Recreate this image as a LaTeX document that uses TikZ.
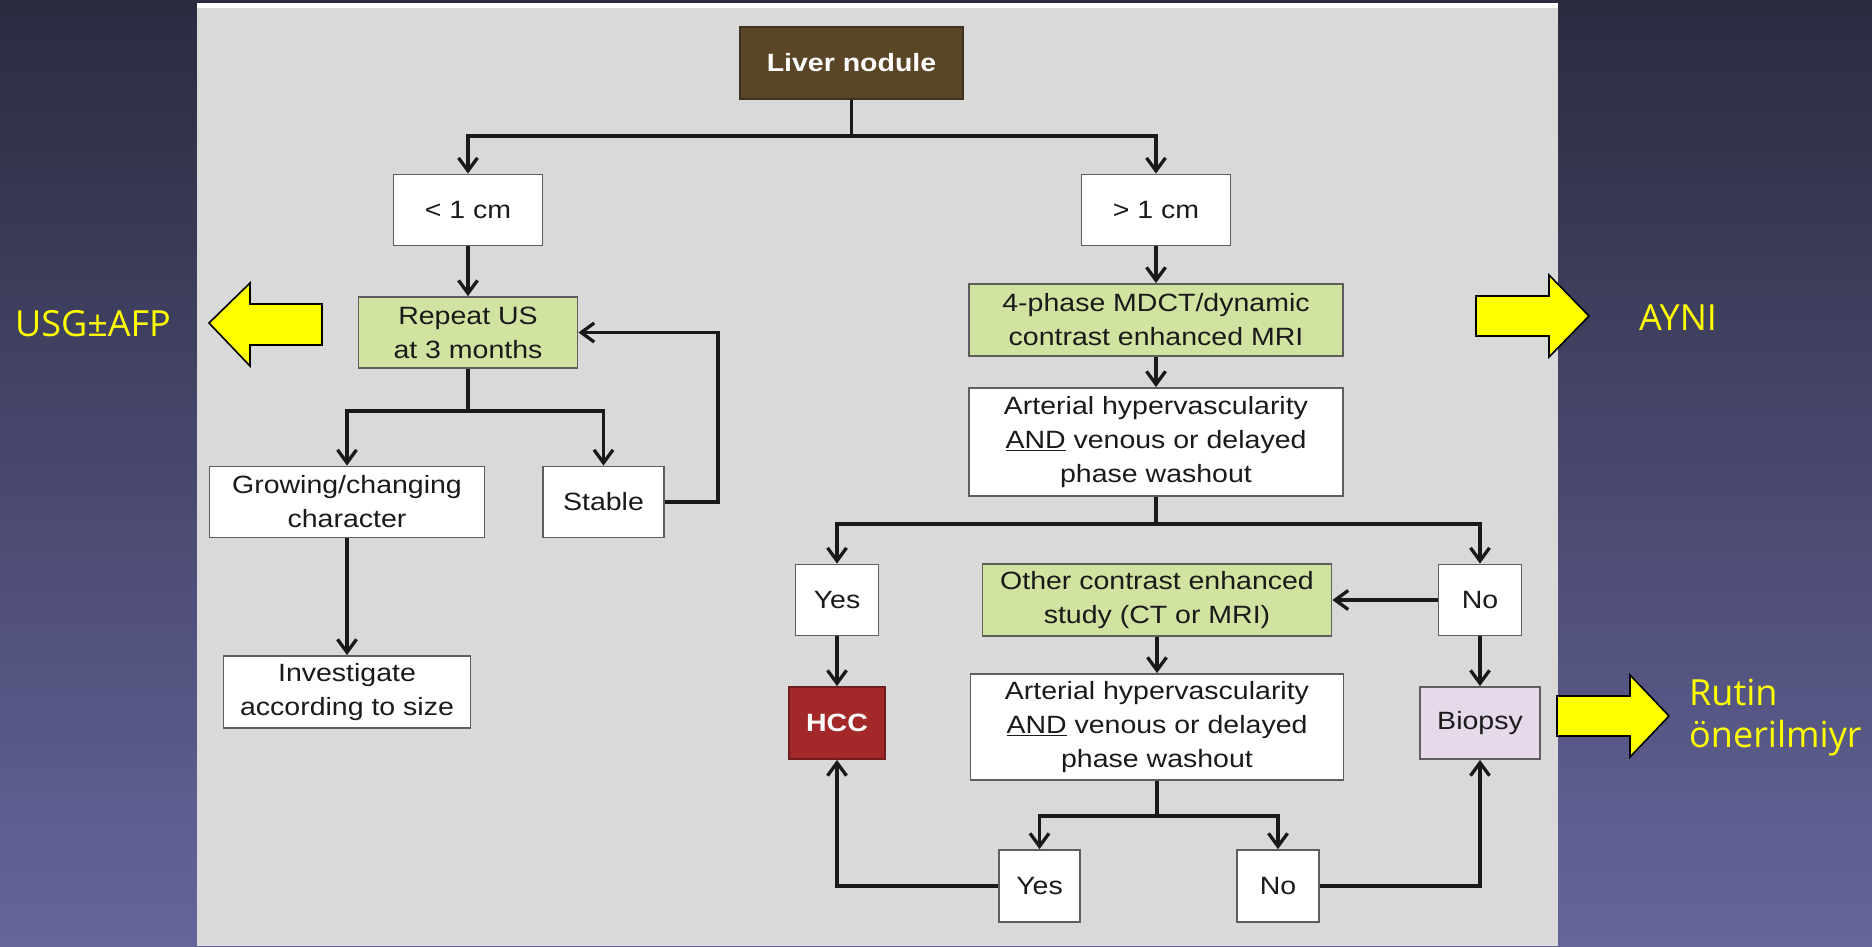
\documentclass[tikz,border=0pt]{standalone}
\usepackage{fontspec}
\setmainfont{Liberation Sans}
\newfontfamily\boxfont[FakeStretch=1.14]{Liberation Sans}
\newfontfamily\notefont{Open Sans}
\usetikzlibrary{arrows.meta}

\definecolor{bgtop}{HTML}{2B2B40}
\definecolor{bgbot}{HTML}{65659C}
\definecolor{panelgray}{HTML}{D9D9D9}
\definecolor{nodulebrown}{HTML}{5A4626}
\definecolor{imggreen}{HTML}{D1E3A1}
\definecolor{hccred}{HTML}{A2282A}
\definecolor{biopsylilac}{HTML}{E5D9EA}
\definecolor{boxline}{HTML}{5E5E5E}
\definecolor{boxtext}{HTML}{1A1A1A}
\definecolor{noteyellow}{HTML}{FFFF00}

\begin{document}
\begin{tikzpicture}[x=1pt, y=-1pt, line join=miter,
  box/.style={draw=boxline, line width=1.8pt, fill=white, inner sep=0pt, align=center,
    text=boxtext, font=\boxfont\fontsize{25}{34}\selectfont},
  imgbox/.style={box, fill=imggreen},
  flow/.style={line width=3.3pt, black!90},
  arr/.style={flow, -{Straight Barb[length=13pt,width=19pt]}},
  yarrow/.style={fill=noteyellow, draw=black, line width=1.6pt},
  note/.style={text=noteyellow, font=\notefont\fontsize{36}{42}\selectfont, inner sep=0pt}]

  %% ════ 背景 ════
  \shade[top color=bgtop, bottom color=bgbot] (0,0) rectangle (1872,946);
  \fill[white] (197,3) rectangle (1558,8);
  \fill[panelgray] (197,8) rectangle (1558,946);

  %% ════ 方框 ════
  \node[box, fill=nodulebrown, draw=nodulebrown!70!black, text=white, font=\boxfont\bfseries\fontsize{25}{34}\selectfont,
        minimum width=223, minimum height=72] (liver) at (851.5,63) {Liver nodule};
  \node[box, minimum width=149, minimum height=71] (lt) at (468,210) {< 1 cm};
  \node[box, minimum width=149, minimum height=71] (gt) at (1156,210) {> 1 cm};
  \node[imgbox, minimum width=219, minimum height=71] (rep) at (468,332.5) {Repeat US\\at 3 months};
  \node[imgbox, minimum width=374, minimum height=72] (mdct) at (1156,320) {4-phase MDCT/dynamic\\contrast enhanced MRI};
  \node[box, minimum width=374, minimum height=108] (art1) at (1156,442) {Arterial hypervascularity\\\underline{AND} venous or delayed\\phase washout};
  \node[box, minimum width=275, minimum height=71] (grow) at (347,502) {Growing/changing\\character};
  \node[box, minimum width=121, minimum height=71] (stab) at (603.5,502) {Stable};
  \node[box, minimum width=247, minimum height=72] (inv) at (347,692) {Investigate\\according to size};
  \node[box, minimum width=83, minimum height=71] (yes1) at (837,600) {Yes};
  \node[box, fill=hccred, draw=hccred!70!black, text=white, font=\boxfont\bfseries\fontsize{25}{34}\selectfont,
        minimum width=96, minimum height=72] (hcc) at (837,723) {HCC};
  \node[imgbox, minimum width=349, minimum height=72] (oth) at (1157,600) {Other contrast enhanced\\study (CT or MRI)};
  \node[box, minimum width=83, minimum height=71] (no1) at (1480,600) {No};
  \node[box, minimum width=373, minimum height=106] (art2) at (1157,727) {Arterial hypervascularity\\\underline{AND} venous or delayed\\phase washout};
  \node[box, fill=biopsylilac, minimum width=120, minimum height=72] (biop) at (1480,723) {Biopsy};
  \node[box, minimum width=81, minimum height=72] (yes2) at (1039.5,886) {Yes};
  \node[box, minimum width=82, minimum height=72] (no2) at (1278,886) {No};

  %% ════ 分叉点 ════
  \coordinate (s1) at (851.5,136);
  \coordinate (s2) at (468,411);
  \coordinate (s3) at (1156,524);
  \coordinate (s4) at (1157,816);
  \coordinate (fb) at (718,502);

  %% ════ 连线 ════
  \draw[flow] (liver) -- (s1);
  \draw[arr] (s1) -| (lt);
  \draw[arr] (s1) -| (gt);
  \draw[arr] (lt) -- (rep);
  \draw[flow] (rep) -- (s2);
  \draw[arr] (s2) -| (grow);
  \draw[arr] (s2) -| (stab);
  \draw[arr] (stab) -- (fb) |- (rep);
  \draw[arr] (grow) -- (inv);
  \draw[arr] (gt) -- (mdct);
  \draw[arr] (mdct) -- (art1);
  \draw[flow] (art1) -- (s3);
  \draw[arr] (s3) -| (yes1);
  \draw[arr] (s3) -| (no1);
  \draw[arr] (yes1) -- (hcc);
  \draw[arr] (no1) -- (oth);
  \draw[arr] (no1) -- (biop);
  \draw[arr] (oth) -- (art2);
  \draw[flow] (art2) -- (s4);
  \draw[arr] (s4) -| (yes2);
  \draw[arr] (s4) -| (no2);
  \draw[arr] (yes2) -| (hcc);
  \draw[arr] (no2) -| (biop);

  %% ════ 黄色箭头与注释 ════
  \draw[yarrow] (322,304) -- (250,304) -- (250,283) -- (209,323) -- (250,366) -- (250,345) -- (322,345) -- cycle;
  \draw[yarrow] (1476,296) -- (1549,296) -- (1549,275) -- (1589,316) -- (1549,357) -- (1549,336) -- (1476,336) -- cycle;
  \draw[yarrow] (1557,696) -- (1630,696) -- (1630,675) -- (1669,716) -- (1630,757) -- (1630,736) -- (1557,736) -- cycle;
  \node[note] (usg) at (93,324) {USG±AFP};
  \node[note] (ayni) at (1678,318) {AYNI};
  \node[note, anchor=west, align=left] (rutin) at (1689,718) {Rutin\\önerilmiyr};

  \pgfresetboundingbox
  \path[use as bounding box] (0,0) rectangle (1872,946);
\end{tikzpicture}
\end{document}
